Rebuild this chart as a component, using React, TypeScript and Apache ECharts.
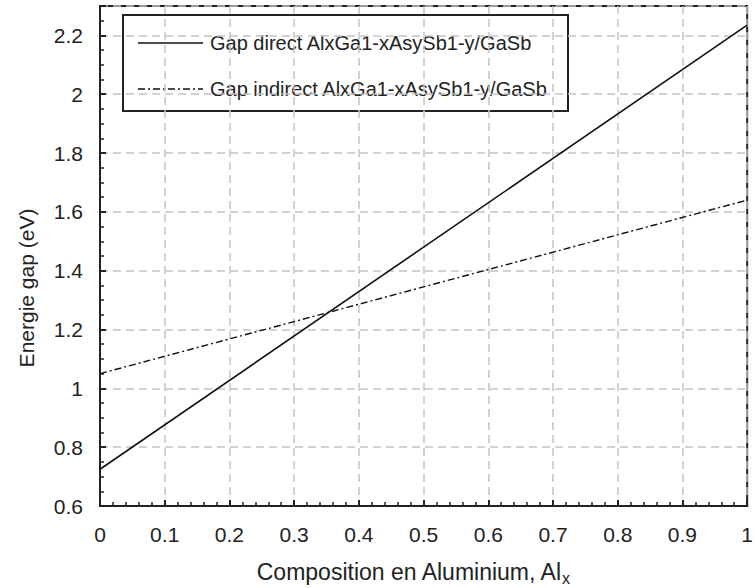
import React, { useEffect, useRef } from 'react';
import * as echarts from 'echarts';

const compositionX = [0, 0.5, 1];
const gapDirect = [0.725, 1.48, 2.235];
const gapIndirect = [1.05, 1.345, 1.64];
const seriesNames = ['Gap direct AlxGa1-xAsySb1-y/GaSb', 'Gap indirect AlxGa1-xAsySb1-y/GaSb'];
const xAxisTitle = 'Composition en Aluminium, Al';
const xAxisSub = 'x';
const yAxisTitle = 'Energie gap (eV)';

const FONT = 'Liberation Sans, Arial, sans-serif';
const INK = '#222';

export default function App() {
  const ref = useRef<HTMLDivElement>(null);
  useEffect(() => {
    if (!ref.current) return;
    const chart = echarts.init(ref.current, undefined, { renderer: 'svg' });
    const dashDot = [7, 3, 2, 3];
    const option = {
      animation: false,
      backgroundColor: '#fff',
      textStyle: { fontFamily: FONT },
      grid: {
        left: 100, right: 1, top: 6, bottom: 82,
        show: true, borderColor: INK, borderWidth: 2, backgroundColor: 'transparent',
      },
      xAxis: {
        type: 'value', min: 0, max: 1, interval: 0.1,
        axisLine: { show: true, lineStyle: { color: INK, width: 2 } },
        axisTick: { show: true, inside: true, length: 6, lineStyle: { color: INK, width: 2 } },
        minorTick: { show: true, splitNumber: 5, length: 4, lineStyle: { color: INK, width: 1.5 } },
        axisLabel: { fontSize: 21, color: INK, fontFamily: FONT, margin: 18 },
        splitLine: { show: true, lineStyle: { color: '#c4c4c4', width: 1.5, type: [8, 5] } },
      },
      yAxis: {
        type: 'value', min: 0.6, max: 2.3, interval: 0.2,
        axisLine: { show: true, lineStyle: { color: INK, width: 2 } },
        axisTick: { show: true, inside: true, length: 6, lineStyle: { color: INK, width: 2 } },
        minorTick: { show: true, splitNumber: 4, length: 4, lineStyle: { color: INK, width: 1.5 } },
        axisLabel: { fontSize: 21, color: INK, fontFamily: FONT, margin: 17, showMaxLabel: false },
        splitLine: { show: true, lineStyle: { color: '#c4c4c4', width: 1.5, type: [8, 5] } },
      },
      series: [
        {
          name: seriesNames[0], type: 'line', showSymbol: false, symbol: 'none',
          data: compositionX.map((x, i) => [x, gapDirect[i]]),
          lineStyle: { color: '#111', width: 1.6 },
        },
        {
          name: seriesNames[1], type: 'line', showSymbol: false, symbol: 'none',
          data: compositionX.map((x, i) => [x, gapIndirect[i]]),
          lineStyle: { color: '#111', width: 1.4, type: dashDot },
        },
      ],
      graphic: [
        {
          type: 'group', left: 122, top: 14, z: 100,
          children: [
            { type: 'rect', shape: { x: 0, y: 0, width: 445, height: 96 }, style: { fill: '#fff', stroke: INK, lineWidth: 2 } },
            { type: 'line', shape: { x1: 15, y1: 28, x2: 80, y2: 28 }, style: { stroke: '#111', lineWidth: 1.6 } },
            { type: 'text', x: 87, y: 28, style: { text: seriesNames[0], font: `20px ${FONT}`, fill: INK, verticalAlign: 'middle' } },
            { type: 'line', shape: { x1: 15, y1: 74, x2: 80, y2: 74 }, style: { stroke: '#111', lineWidth: 1.4, lineDash: dashDot } },
            { type: 'text', x: 87, y: 74, style: { text: seriesNames[1], font: `20px ${FONT}`, fill: INK, verticalAlign: 'middle' } },
          ],
        },
        {
          type: 'text', x: 561, y: 572, z: 100,
          style: { text: xAxisTitle, font: `23px ${FONT}`, fill: INK, textAlign: 'right', verticalAlign: 'middle' },
        },
        {
          type: 'text', x: 562, y: 578, z: 100,
          style: { text: xAxisSub, font: `16px ${FONT}`, fill: INK, textAlign: 'left', verticalAlign: 'middle' },
        },
        {
          type: 'text', x: 26, y: 288, rotation: Math.PI / 2, z: 100,
          style: { text: yAxisTitle, font: `21px ${FONT}`, fill: INK, textAlign: 'center', verticalAlign: 'middle' },
        },
      ],
    };
    chart.setOption(option as any);
    return () => chart.dispose();
  }, []);
  return (
    <div
      ref={ref}
      style={{ position: 'fixed', left: 0, top: 0, width: 756, height: 588, background: '#fff' }}
    />
  );
}
